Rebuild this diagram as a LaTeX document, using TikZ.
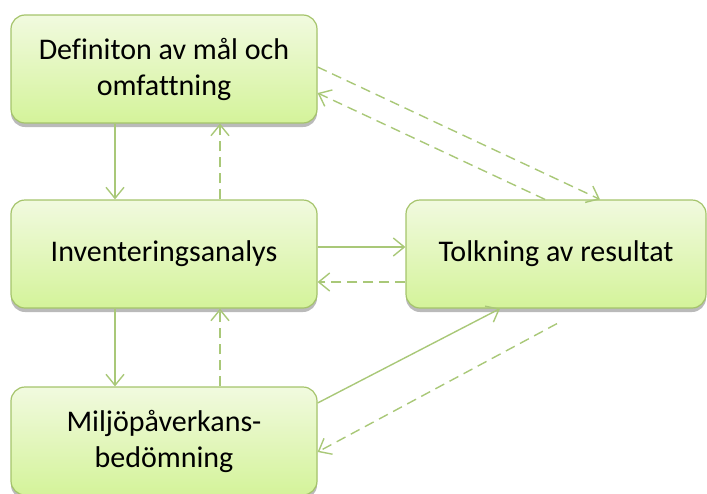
\documentclass[tikz,border=0pt]{standalone}
\usepackage{fontspec}
\setmainfont{Carlito}[Ligatures=NoCommon]
\usetikzlibrary{arrows.meta,shadows,positioning}
\definecolor{boxline}{HTML}{A5C46B}
\definecolor{boxtop}{HTML}{F1FADF}
\definecolor{boxbottom}{HTML}{D4F39A}
\definecolor{flowgreen}{HTML}{A9C878}

\tikzset{
  stage/.style={draw=boxline, line width=1.2pt, rounded corners=14pt,
    top color=boxtop, bottom color=boxbottom,
    drop shadow={shadow xshift=0pt, shadow yshift=-4pt, fill=black!45, opacity=0.6},
    minimum width=306pt, minimum height=108pt, align=center,
    font=\fontsize{30}{36}\selectfont},
  flow/.style={draw=flowgreen, line width=1.4pt,
    -{Straight Barb[length=11pt,width=18pt]}},
  back/.style={flow, dash pattern=on 10pt off 6pt}
}

\begin{document}
\begin{tikzpicture}[x=1pt,y=-1pt]
  \useasboundingbox (0,0) rectangle (707,493);
  \node[stage] (def) at (164,69) {Definiton av mål och\\omfattning};
  \node[stage] (inv) at (164,254) {Inventeringsanalys};
  \node[stage, minimum width=300pt] (tolk) at (556,254) {Tolkning av resultat};
  \node[stage] (milj) at (164,441) {Miljöpåverkans-\\bedömning};
  \coordinate (ret) at ([xshift=1pt,yshift=-15pt]tolk.south);

  % vertical flow
  \draw[flow] ([xshift=-49pt]def.south) -- ([xshift=-49pt]inv.north);
  \draw[back] ([xshift=56pt]inv.north) -- ([xshift=56pt]def.south);
  \draw[flow] ([xshift=-49pt]inv.south) -- ([xshift=-49pt]milj.north);
  \draw[back] ([xshift=56pt]milj.north) -- ([xshift=56pt]inv.south);

  % to and from the interpretation
  \draw[flow] ([yshift=7pt]inv.east) -- ([yshift=7pt]tolk.west);
  \draw[back] ([yshift=-28pt]tolk.west) -- ([yshift=-28pt]inv.east);
  \draw[back] ([yshift=2pt]def.east) -- ([xshift=44pt]tolk.north);
  \draw[back] ([xshift=-11pt]tolk.north) -- ([yshift=-24pt]def.east);
  \draw[flow] ([yshift=38pt]milj.east) -- ([xshift=-56pt]tolk.south);
  \draw[back] (ret) -- ([yshift=-11pt]milj.east);
\end{tikzpicture}
\end{document}
